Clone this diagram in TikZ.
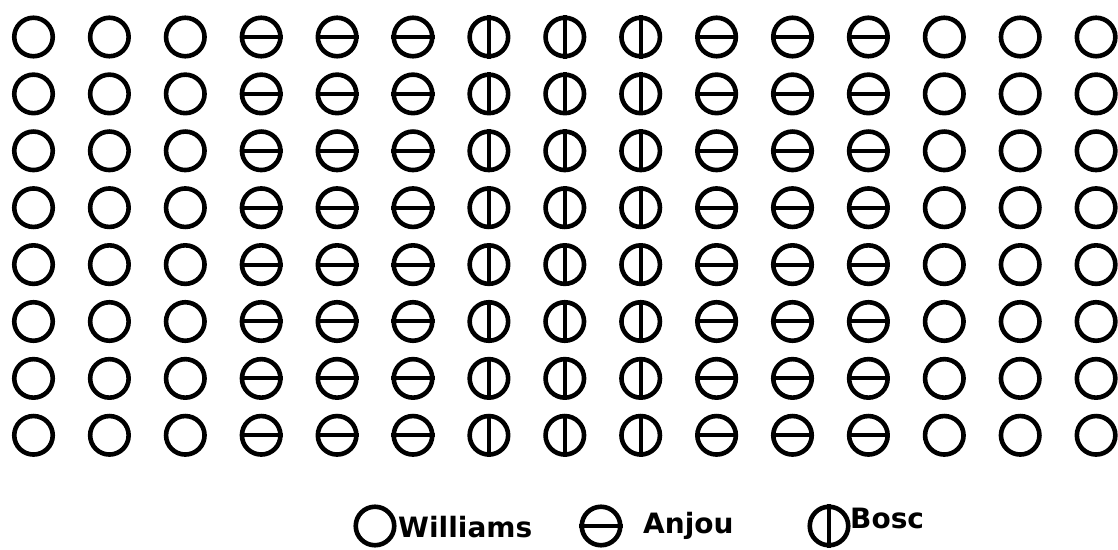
\documentclass[tikz,border=0pt]{standalone}
\usepackage{fontspec}
\setsansfont{DejaVu Sans}
\usetikzlibrary{positioning}
\tikzset{
  pear/.style={circle, draw, line width=4.6pt, inner sep=0pt, minimum size=38.5pt},
  cut/.style={line width=4pt},
  key/.style={font=\sffamily\bfseries\fontsize{28}{28}\selectfont, anchor=base west, inner sep=0pt},
}
\begin{document}
\begin{tikzpicture}[x=1pt, y=1pt]
  \useasboundingbox (0,0) rectangle (1118,549);
  % orchard: 0 = Williams, 1 = Anjou, 2 = Bosc
  \foreach \c/\k in {0/0,1/0,2/0,3/1,4/1,5/1,6/2,7/2,8/2,9/1,10/1,11/1,12/0,13/0,14/0} {
    \foreach \r in {0,...,7} {
      \node[pear] (t-\c-\r) at ({33.5+75.9*\c}, {512-56.9*\r}) {};
      \ifnum\k=1 \draw[cut] (t-\c-\r.west) -- (t-\c-\r.east); \fi
      \ifnum\k=2 \draw[cut] (t-\c-\r.north) -- (t-\c-\r.south); \fi
    }
  }
  % legend
  \node[pear] (lgw) at (375,23) {};
  \node[key] (lw) at (398,12) {Williams};
  \node[pear] (lga) at (601,23) {};
  \draw[cut] (lga.west) -- (lga.east);
  \node[key] (la) at (643,16) {Anjou};
  \node[pear] (lgb) at (829,23) {};
  \draw[cut] (lgb.north) -- (lgb.south);
  \node[key] (lb) at (850,21) {Bosc};
\end{tikzpicture}
\end{document}
